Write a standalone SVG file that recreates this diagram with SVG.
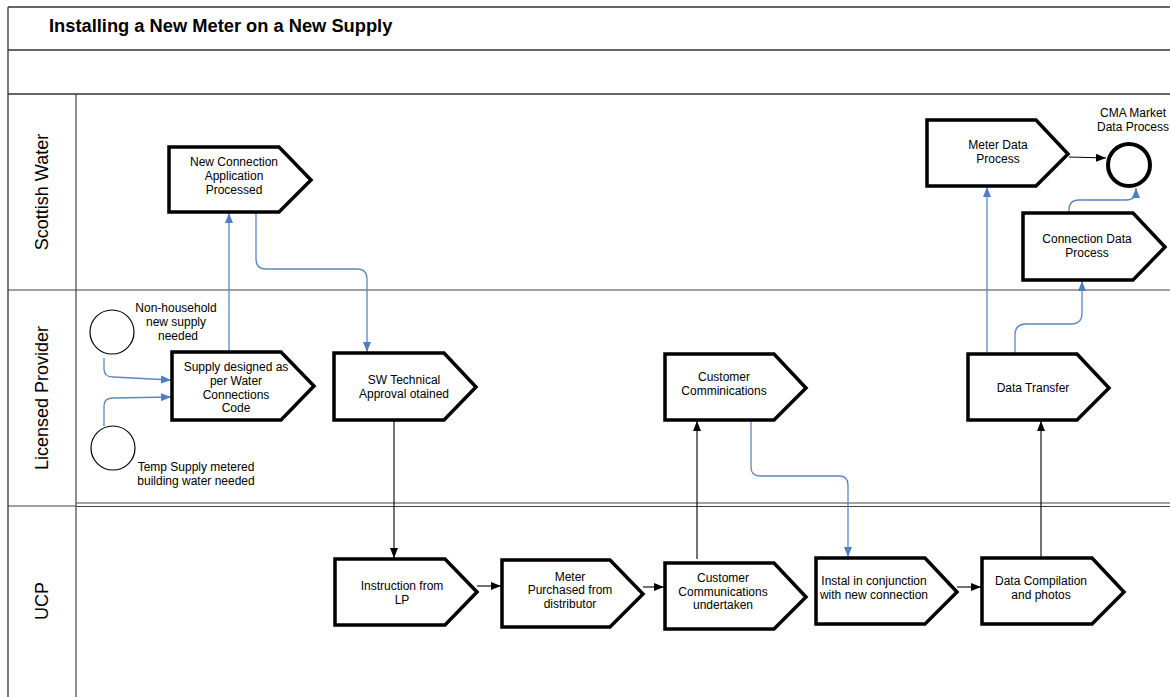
<svg xmlns="http://www.w3.org/2000/svg" width="1170" height="697" viewBox="0 0 1170 697">
<defs>
<style>
.frame{stroke:#333;stroke-width:1.3;fill:none}
.lane{stroke:#444;stroke-width:1.2;fill:none}
.node{fill:#fff;stroke:#000;stroke-width:3.5;stroke-linejoin:miter}
.start{fill:#fff;stroke:#000;stroke-width:1.2}
.end{fill:#fff;stroke:#000;stroke-width:4}
.t{font-family:"Liberation Sans",Arial,sans-serif;font-size:12px;fill:#000;text-anchor:middle}
.lbl{font-family:"Liberation Sans",Arial,sans-serif;font-size:18px;fill:#000;text-anchor:middle}
.blue{stroke:#5b87c3;stroke-width:1.3;fill:none;marker-end:url(#ab)}
.blk{stroke:#000;stroke-width:1.1;fill:none;marker-end:url(#ak)}
</style>
<marker id="ab" viewBox="0 0 10 10" refX="10" refY="5" markerWidth="10" markerHeight="10" markerUnits="userSpaceOnUse" orient="auto"><path d="M0,1 L10,5 L0,9 Z" fill="#4f7fc0"/></marker>
<marker id="ak" viewBox="0 0 10 10" refX="10" refY="5" markerWidth="10" markerHeight="10" markerUnits="userSpaceOnUse" orient="auto"><path d="M0,1 L10,5 L0,9 Z" fill="#000"/></marker>
</defs>
<rect width="1170" height="697" fill="#fff"/>
<g id="pool">
<line class="frame" x1="8" y1="7" x2="1170" y2="7"/>
<line class="frame" x1="8" y1="7" x2="8" y2="697"/>
<line class="frame" x1="8" y1="50" x2="1170" y2="50"/>
<line class="frame" x1="8" y1="94" x2="1170" y2="94"/>
<line class="lane" x1="76" y1="94" x2="76" y2="697"/>
<line class="lane" x1="8" y1="290" x2="1170" y2="290"/>
<line class="lane" x1="8" y1="506" x2="76" y2="506"/>
<line class="lane" x1="76" y1="503" x2="1170" y2="503"/>
<line class="lane" x1="76" y1="506.5" x2="1170" y2="506.5"/>
<text x="49" y="32" font-family="'Liberation Sans',Arial,sans-serif" font-size="18.3" font-weight="bold">Installing a New Meter on a New Supply</text>
<text class="lbl" transform="translate(48,192) rotate(-90)">Scottish Water</text>
<text class="lbl" transform="translate(48,398) rotate(-90)">Licensed Provider</text>
<text class="lbl" transform="translate(48,601) rotate(-90)">UCP</text>
</g>
<g id="connectors">
<path class="blue" d="M229,352 L229,213"/>
<path class="blue" d="M256,212 L256,259 Q256,269 266,269 L357,269 Q367,269 367,279 L367,352"/>
<path class="blue" d="M104,358 L104,369 Q104,377 113,377 L171,380"/>
<path class="blue" d="M104,426 L104,406 Q104,398 113,398 L171,397"/>
<path class="blue" d="M751,420 L751,467 Q751,476 760,476 L839,476 Q848,476 848,485 L848,557"/>
<path class="blue" d="M987,354 L987,187"/>
<path class="blue" d="M1015,354 L1015,335 Q1015,324 1026,324 L1071,324 Q1082,324 1082,313 L1082,281"/>
<path class="blue" d="M1069,213 L1069,210 Q1069,200 1079,200 L1126,200 Q1136,200 1136,190 L1136,188"/>
<path class="blk" d="M394,420 L394,558"/>
<path class="blk" d="M477,586 L501,586"/>
<path class="blk" d="M643,587 L664,587"/>
<path class="blk" d="M697,559 L697,421"/>
<path class="blk" d="M957,587 L981,587"/>
<path class="blk" d="M1041,558 L1041,421"/>
<path class="blk" d="M1069,157 L1106,158" stroke="#333"/>
</g>
<g id="n-nonhousehold">
<circle class="start" cx="112" cy="332" r="22"/>
<text class="t"><tspan x="176" y="312">Non-household</tspan><tspan x="176" y="326">new supply</tspan><tspan x="178" y="340">needed</tspan></text>
</g>
<g id="n-temp">
<circle class="start" cx="113" cy="448" r="22"/>
<text class="t"><tspan x="196" y="471">Temp Supply metered</tspan><tspan x="196" y="485">building water needed</tspan></text>
</g>
<g id="n-newconn">
<path class="node" d="M169,147 L279,147 L311,180 L279,212 L169,212 Z"/>
<text class="t"><tspan x="234" y="166">New Connection</tspan><tspan x="234" y="180">Application</tspan><tspan x="234" y="194">Processed</tspan></text>
</g>
<g id="n-supply">
<path class="node" d="M172,352 L281,352 L314,386 L281,420 L172,420 Z"/>
<text class="t"><tspan x="236" y="371">Supply designed as</tspan><tspan x="236" y="385">per Water</tspan><tspan x="236" y="399">Connections</tspan><tspan x="236" y="412">Code</tspan></text>
</g>
<g id="n-swtech">
<path class="node" d="M334,353 L444,353 L476,387 L444,420 L334,420 Z"/>
<text class="t"><tspan x="404" y="384">SW Technical</tspan><tspan x="404" y="398">Approval otained</tspan></text>
</g>
<g id="n-custcomm">
<path class="node" d="M665,354 L774,354 L806,388 L774,420 L665,420 Z"/>
<text class="t"><tspan x="724" y="381">Customer</tspan><tspan x="724" y="395">Comminications</tspan></text>
</g>
<g id="n-datatransfer">
<path class="node" d="M968,354 L1077,354 L1109,388 L1077,420 L968,420 Z"/>
<text class="t"><tspan x="1033" y="392">Data Transfer</tspan></text>
</g>
<g id="n-meterdata">
<path class="node" d="M927,120 L1036,120 L1068,154 L1036,186 L927,186 Z"/>
<text class="t"><tspan x="998" y="149">Meter Data</tspan><tspan x="998" y="163">Process</tspan></text>
</g>
<g id="n-conndata">
<path class="node" d="M1023,213 L1133,213 L1165,247 L1133,280 L1023,280 Z"/>
<text class="t"><tspan x="1087" y="243">Connection Data</tspan><tspan x="1087" y="257">Process</tspan></text>
</g>
<g id="n-cma">
<circle class="end" cx="1129" cy="165" r="21"/>
<text class="t"><tspan x="1133" y="117">CMA Market</tspan><tspan x="1133" y="131">Data Process</tspan></text>
</g>
<g id="n-instruction">
<path class="node" d="M335,559 L445,559 L477,592 L445,625 L335,625 Z"/>
<text class="t"><tspan x="402" y="590">Instruction from</tspan><tspan x="402" y="604">LP</tspan></text>
</g>
<g id="n-meterpurchased">
<path class="node" d="M502,560 L610,560 L643,594 L610,627 L502,627 Z"/>
<text class="t"><tspan x="570" y="581">Meter</tspan><tspan x="570" y="594">Purchased from</tspan><tspan x="570" y="608">distributor</tspan></text>
</g>
<g id="n-custcommund">
<path class="node" d="M665,563 L774,563 L806,597 L774,629 L665,629 Z"/>
<text class="t"><tspan x="723" y="582">Customer</tspan><tspan x="723" y="596">Communications</tspan><tspan x="723" y="609">undertaken</tspan></text>
</g>
<g id="n-instal">
<path class="node" d="M816,558 L925,558 L957,592 L925,624 L816,624 Z"/>
<text class="t"><tspan x="874" y="585">Instal in conjunction</tspan><tspan x="874" y="599">with new connection</tspan></text>
</g>
<g id="n-datacomp">
<path class="node" d="M982,558 L1092,558 L1124,592 L1092,624 L982,624 Z"/>
<text class="t"><tspan x="1041" y="585">Data Compilation</tspan><tspan x="1041" y="599">and photos</tspan></text>
</g>
</svg>
